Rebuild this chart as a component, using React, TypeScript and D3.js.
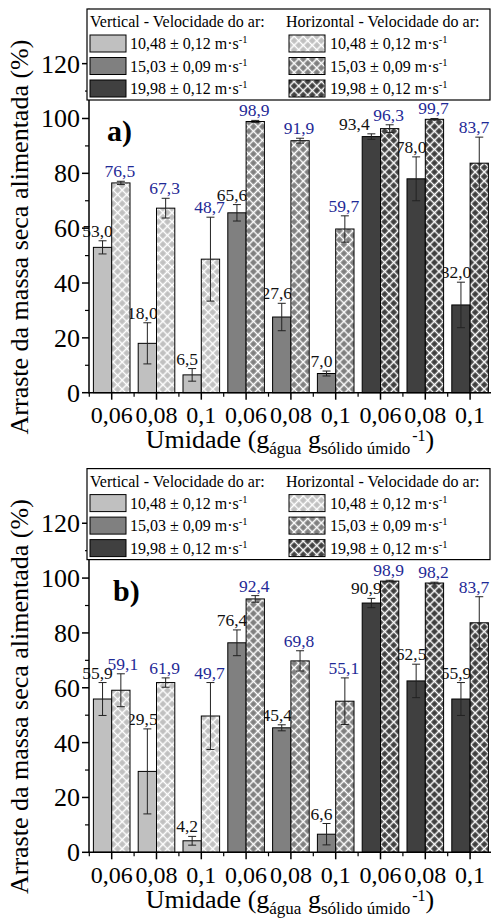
import React, { useRef, useEffect } from 'react';
import * as d3 from 'd3';

// moisture content categories, repeated for each air velocity
const moistures = ['0,06', '0,08', '0,1'];
const velocities = ['10,48 ± 0,12', '15,03 ± 0,09', '19,98 ± 0,12'];
const yTicks = [0, 20, 40, 60, 80, 100, 120];
const yMinorTicks = [10, 30, 50, 70, 90, 110];
const panelNames = ['a)', 'b)'];

// panel a
const verticalA = [53.0, 18.0, 6.5, 65.6, 27.6, 7.0, 93.4, 78.0, 32.0];
const verticalErrA = [2.4, 7.5, 2.3, 3.0, 5.0, 0.9, 1.0, 8.0, 8.3];
const horizontalA = [76.5, 67.3, 48.7, 98.9, 91.9, 59.7, 96.3, 99.7, 83.7];
const horizontalErrA = [0.6, 3.6, 15.3, 0.4, 0.9, 4.8, 1.4, 0.3, 9.5];

// panel b
const verticalB = [55.9, 29.5, 4.2, 76.4, 45.4, 6.6, 90.9, 62.5, 55.9];
const verticalErrB = [6.0, 15.5, 1.6, 4.7, 1.1, 3.9, 1.7, 6.1, 6.0];
const horizontalB = [59.1, 61.9, 49.7, 92.4, 69.8, 55.1, 98.9, 98.2, 83.7];
const horizontalErrB = [6.0, 1.7, 12.2, 1.2, 3.7, 8.5, 0.3, 0.3, 9.5];

const panels = [
  { v: verticalA, ve: verticalErrA, h: horizontalA, he: horizontalErrA },
  { v: verticalB, ve: verticalErrB, h: horizontalB, he: horizontalErrB },
];

const fills = ['#c0c0c0', '#808080', '#404040'];
const FONT = "'Liberation Serif', 'Times New Roman', serif";
const fmt = (n: number) => d3.format('.1f')(n).replace('.', ',');

const App = () => {
  const ref = useRef<SVGSVGElement>(null);

  useEffect(() => {
    const panelHeight = 459.6;
    const svg = d3.select(ref.current);
    svg.selectAll('*').remove();
    svg.attr('font-family', FONT);

    const defs = svg.append('defs');
    fills.forEach((c, k) => {
      const p = defs.append('pattern')
        .attr('id', `hatch${k}`)
        .attr('patternUnits', 'userSpaceOnUse')
        .attr('width', 6.4)
        .attr('height', 6.4)
        .attr('patternTransform', 'rotate(45)');
      p.append('rect').attr('width', 6.4).attr('height', 6.4).attr('fill', c);
      p.append('path')
        .attr('d', 'M0,3.2H6.4M3.2,0V6.4')
        .attr('stroke', '#fff')
        .attr('stroke-width', 1.5);
    });

    const categories = velocities.flatMap((_, vi) => moistures.map((_, mi) => vi * 3 + mi));
    const x0 = d3.scaleBand<number>().domain(categories).range([89.3, 492.5]).padding(0);
    const x1 = d3.scaleBand<string>().domain(['v', 'h'])
      .range([0, x0.bandwidth()]).paddingInner(0).paddingOuter(0.224);
    const y = d3.scaleLinear().domain([0, 140]).range([392.7, 8.8]);

    panels.forEach((pd, pi) => {
      const g = svg.append('g').attr('transform', `translate(0, ${pi * panelHeight})`);

      const series = [
        { key: 'v', vals: pd.v, errs: pd.ve, color: '#111', dx: -5 },
        { key: 'h', vals: pd.h, errs: pd.he, color: '#1f2a96', dx: -1 },
      ];

      const labelY = (s: typeof series[0], i: number) => y(s.vals[i] + s.errs[i]) - 4;

      series.forEach(s => {
        categories.forEach((c, i) => {
          const bx = (x0(c) as number) + (x1(s.key) as number);
          const bw = x1.bandwidth();
          const val = s.vals[i];
          const err = s.errs[i];
          const fill = s.key === 'v' ? fills[Math.floor(i / 3)] : `url(#hatch${Math.floor(i / 3)})`;
          g.append('rect')
            .attr('x', bx)
            .attr('y', y(val))
            .attr('width', bw)
            .attr('height', y(0) - y(val))
            .attr('fill', fill)
            .attr('stroke', '#000')
            .attr('stroke-width', 1);

          const cx = bx + bw / 2;
          g.append('path')
            .attr('d', `M${cx},${y(val - err)}V${y(val + err)}M${cx - 4},${y(val + err)}H${cx + 4}M${cx - 4},${y(val - err)}H${cx + 4}`)
            .attr('stroke', '#222')
            .attr('stroke-width', 1)
            .attr('fill', 'none');

          // keep labels apart when the pair sits at almost the same height:
          // push the vertical label left, or the horizontal one right if there is no room
          let lx = cx + s.dx;
          const close = Math.abs(labelY(series[0], i) - labelY(series[1], i)) < 10;
          const roomLeft = (x0(c) as number) > 120;
          if (close && s.key === 'v' && roomLeft) lx -= 12;
          if (close && s.key === 'h' && !roomLeft) lx += 3;
          lx = Math.min(lx, 474);

          g.append('text')
            .attr('x', lx)
            .attr('y', labelY(s, i))
            .attr('text-anchor', 'middle')
            .attr('font-size', 17.5)
            .attr('fill', s.color)
            .text(fmt(val));
        });
      });

      // y axis
      g.append('line').attr('x1', 89).attr('x2', 89).attr('y1', y(0)).attr('y2', y(140))
        .attr('stroke', '#000').attr('stroke-width', 1.5);
      yTicks.forEach(t => {
        g.append('line').attr('x1', 82).attr('x2', 89).attr('y1', y(t)).attr('y2', y(t))
          .attr('stroke', '#000').attr('stroke-width', 1.5);
        g.append('text')
          .attr('x', 80)
          .attr('y', y(t) + 9)
          .attr('text-anchor', 'end')
          .attr('font-size', 26)
          .text(t);
      });
      yMinorTicks.forEach(t => {
        g.append('line').attr('x1', 85).attr('x2', 89).attr('y1', y(t)).attr('y2', y(t))
          .attr('stroke', '#000').attr('stroke-width', 1.2);
      });

      // x axis
      g.append('line').attr('x1', 88.3).attr('x2', 492).attr('y1', y(0)).attr('y2', y(0))
        .attr('stroke', '#000').attr('stroke-width', 1.5);
      categories.forEach((c, i) => {
        const cx = (x0(c) as number) + x0.bandwidth() / 2;
        g.append('line').attr('x1', cx).attr('x2', cx).attr('y1', y(0)).attr('y2', y(0) + 7)
          .attr('stroke', '#000').attr('stroke-width', 1.5);
        g.append('line').attr('x1', x0(c) as number).attr('x2', x0(c) as number)
          .attr('y1', y(0)).attr('y2', y(0) + 4)
          .attr('stroke', '#000').attr('stroke-width', 1.2);
        g.append('text')
          .attr('x', cx)
          .attr('y', 423)
          .attr('text-anchor', 'middle')
          .attr('font-size', 24)
          .text(moistures[i % 3]);
      });

      // axis titles
      g.append('text')
        .attr('transform', 'translate(28, 237) rotate(-90)')
        .attr('text-anchor', 'middle')
        .attr('font-size', 26)
        .text('Arraste da massa seca alimentada (%)');

      const xt = g.append('text')
        .attr('x', 290)
        .attr('y', 448)
        .attr('text-anchor', 'middle')
        .attr('font-size', 26);
      xt.append('tspan').text('Umidade (g');
      xt.append('tspan').attr('dy', 6).attr('font-size', 17).text('água');
      xt.append('tspan').attr('dy', -6).text(' g');
      xt.append('tspan').attr('dy', 6).attr('font-size', 17).text('sólido úmido');
      xt.append('tspan').attr('dy', -13).attr('dx', 2).attr('font-size', 16).text('-1');
      xt.append('tspan').attr('dy', 7).text(')');

      // panel label
      g.append('text')
        .attr('x', pi === 0 ? 107 : 113)
        .attr('y', 141)
        .attr('font-size', 30)
        .attr('font-weight', 'bold')
        .text(panelNames[pi]);

      // legend
      const lg = g.append('g');
      lg.append('rect').attr('x', 87).attr('y', 9).attr('width', 403).attr('height', 91)
        .attr('fill', '#fff').attr('stroke', '#000').attr('stroke-width', 1.2);
      lg.append('text').attr('x', 90).attr('y', 27).attr('font-size', 16)
        .text('Vertical - Velocidade do ar:');
      lg.append('text').attr('x', 286).attr('y', 27).attr('font-size', 16)
        .text('Horizontal - Velocidade do ar:');
      velocities.forEach((vel, k) => {
        const top = 35 + k * 22.5;
        lg.append('rect').attr('x', 90).attr('y', top).attr('width', 36).attr('height', 17)
          .attr('fill', fills[k]).attr('stroke', '#000').attr('stroke-width', 1);
        lg.append('rect').attr('x', 289).attr('y', top).attr('width', 36).attr('height', 17)
          .attr('fill', `url(#hatch${k})`).attr('stroke', '#000').attr('stroke-width', 1);
        [130, 330].forEach(tx => {
          const t = lg.append('text').attr('x', tx).attr('y', top + 14).attr('font-size', 16);
          t.append('tspan').text(`${vel} m·s`);
          t.append('tspan').attr('dy', -6).attr('font-size', 10.5).text('-1');
        });
      });
    });

    return () => {
      d3.select(ref.current).selectAll('*').remove();
    };
  }, []);

  return (
    <svg ref={ref} width={491} height={918} style={{ position: 'absolute', left: 0, top: 0, background: '#fff' }}></svg>
  );
};

export default App;
